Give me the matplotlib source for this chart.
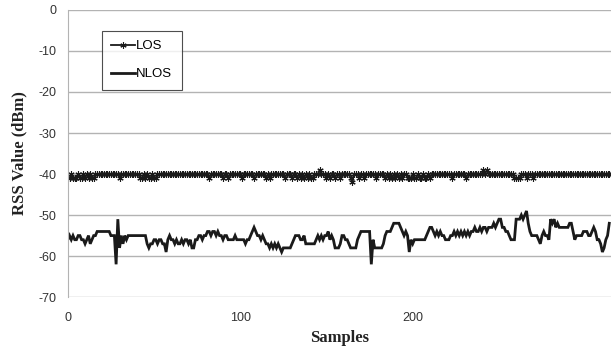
import numpy as np
import matplotlib
matplotlib.use("Agg")
import matplotlib.pyplot as plt

# RSS readings per sample (dBm)
los = [
    -41, -41, -40, -41, -41, -41, -40, -41, -41, -40, -41, -40, -41, -40, -41,
    -41, -40, -40, -40, -40, -40, -40, -40, -40, -40, -40, -40, -40, -40, -40,
    -41, -40, -40, -40, -40, -40, -40, -40, -40, -40, -40, -40, -41, -41, -40,
    -41, -40, -41, -41, -40, -41, -41, -40, -40, -40, -40, -40, -40, -40, -40,
    -40, -40, -40, -40, -40, -40, -40, -40, -40, -40, -40, -40, -40, -40, -40,
    -40, -40, -40, -40, -40, -40, -40, -41, -40, -40, -40, -40, -40, -40, -40,
    -41, -40, -40, -41, -40, -40, -40, -40, -40, -40, -40, -41, -40, -40, -40,
    -40, -40, -40, -41, -40, -40, -40, -40, -40, -40, -41, -40, -41, -40, -40,
    -40, -40, -40, -40, -40, -40, -41, -40, -40, -40, -41, -40, -40, -41, -40,
    -41, -40, -41, -40, -41, -40, -41, -41, -40, -40, -40, -39, -40, -40, -40,
    -41, -40, -41, -40, -40, -41, -40, -40, -41, -40, -40, -40, -40, -40, -41,
    -42, -40, -40, -40, -41, -40, -40, -41, -40, -40, -40, -40, -40, -40, -41,
    -40, -40, -40, -40, -41, -40, -41, -40, -41, -40, -41, -40, -41, -40, -41,
    -40, -40, -41, -41, -41, -40, -41, -41, -40, -41, -41, -40, -41, -41, -40,
    -41, -40, -40, -40, -40, -40, -40, -40, -40, -40, -40, -40, -40, -41, -40,
    -40, -40, -40, -40, -40, -40, -41, -40, -40, -40, -40, -40, -40, -40, -40,
    -40, -39, -40, -39, -40, -40, -40, -40, -40, -40, -40, -40, -40, -40, -40,
    -40, -40, -40, -40, -41, -41, -41, -41, -40, -40, -40, -41, -40, -40, -40,
    -41, -40, -40, -40, -40, -40, -40, -40, -40, -40, -40, -40, -40, -40, -40,
    -40, -40, -40, -40, -40, -40, -40, -40, -40, -40, -40, -40, -40, -40, -40,
    -40, -40, -40, -40, -40, -40, -40, -40, -40, -40, -40, -40, -40, -40, -40,
]

nlos = [
    -56, -55, -56, -55, -56, -56, -55, -55, -56, -56,
    -57, -56, -55, -57, -56, -55, -55, -54, -54, -54,
    -54, -54, -54, -54, -54, -55, -55, -55, -62, -51,
    -58, -55, -57, -55, -56, -55, -55, -55, -55, -55,
    -55, -55, -55, -55, -55, -55, -57, -58, -57, -57,
    -56, -56, -57, -56, -56, -57, -57, -59, -56, -55,
    -56, -56, -57, -56, -57, -57, -56, -57, -56, -56,
    -57, -56, -58, -58, -56, -56, -55, -55, -56, -55,
    -55, -54, -54, -55, -54, -54, -55, -54, -55, -55,
    -56, -55, -55, -56, -56, -56, -56, -55, -56, -56,
    -56, -56, -56, -57, -56, -56, -55, -54, -53, -54,
    -55, -55, -56, -55, -56, -57, -57, -58, -57, -58,
    -57, -58, -57, -58, -59, -58, -58, -58, -58, -58,
    -57, -56, -55, -55, -55, -56, -56, -55, -57, -57,
    -57, -57, -57, -57, -56, -55, -56, -55, -56, -55,
    -55, -54, -56, -55, -56, -58, -58, -58, -57, -55,
    -55, -56, -56, -57, -58, -58, -58, -58, -56, -55,
    -54, -54, -54, -54, -54, -54, -62, -56, -58, -58,
    -58, -58, -58, -57, -55, -54, -54, -54, -53, -52,
    -52, -52, -52, -53, -54, -55, -54, -55, -59, -56,
    -57, -56, -56, -56, -56, -56, -56, -56, -55, -54,
    -53, -53, -54, -55, -54, -55, -54, -55, -55, -56,
    -56, -56, -55, -55, -54, -55, -54, -55, -54, -55,
    -54, -55, -54, -55, -54, -54, -53, -54, -54, -53,
    -54, -53, -53, -54, -53, -53, -53, -52, -53, -52,
    -51, -51, -53, -53, -54, -54, -55, -56, -56, -56,
    -51, -51, -51, -50, -51, -50, -49, -52, -54, -55,
    -55, -55, -55, -56, -57, -55, -54, -55, -55, -56,
    -51, -52, -51, -53, -52, -53, -53, -53, -53, -53,
    -53, -52, -52, -54, -56, -55, -55, -55, -55, -54,
    -54, -54, -55, -55, -54, -53, -54, -56, -56, -57,
    -59, -58, -56, -55, -52,
]

y_ticks = [0, -10, -20, -30, -40, -50, -60, -70]
x_ticks = [0, 100, 200]


def main():
    plt.rcParams['font.family'] = ['Liberation Sans', 'DejaVu Sans']
    plt.rcParams['axes.unicode_minus'] = False  # Excel style "-10" with a plain hyphen
    fig = plt.figure(figsize=(6.11, 3.55), dpi=100)
    ax = fig.add_axes([0.111, 0.163, 0.889, 0.809])

    grey = '#b3b3b3'
    ax.plot(np.arange(len(los)), los, color='#1a1a1a', lw=1.3,
            marker=(6, 2, 0), markersize=4.5, mew=0.8, label='LOS')
    ax.plot(np.arange(len(nlos)), nlos, color='#1a1a1a', lw=2.0,
            solid_joinstyle='miter', label='NLOS')

    ax.set_xlim(0, 315)
    ax.set_ylim(-70, 0)
    ax.set_yticks(y_ticks)
    ax.set_xticks(x_ticks)
    ax.yaxis.grid(True, color=grey, lw=1.0)
    ax.set_axisbelow(True)
    for side in ['top', 'right', 'bottom']:
        ax.spines[side].set_visible(False)
    ax.spines['left'].set_color(grey)
    ax.tick_params(length=0, labelsize=9, colors='#333333')
    ax.tick_params(axis='y', pad=8)
    ax.tick_params(axis='x', pad=11)

    ax.set_xlabel('Samples', family='Liberation Serif', weight='bold',
                  fontsize=12, color='#222222', labelpad=4)
    ax.set_ylabel('RSS Value (dBm)', family='Liberation Serif', weight='bold',
                  fontsize=12, color='#222222', labelpad=8)

    leg = ax.legend(loc='upper left', bbox_to_anchor=(0.063, 0.927),
                    fontsize=9.5, frameon=True, fancybox=False,
                    handlelength=1.8, handletextpad=0.1, labelspacing=1.2,
                    borderpad=0.7, borderaxespad=0)
    leg.get_frame().set_edgecolor('#222222')
    leg.get_frame().set_linewidth(0.8)

    fig.savefig('out.png', dpi=100)


if __name__ == "__main__":
    main()
